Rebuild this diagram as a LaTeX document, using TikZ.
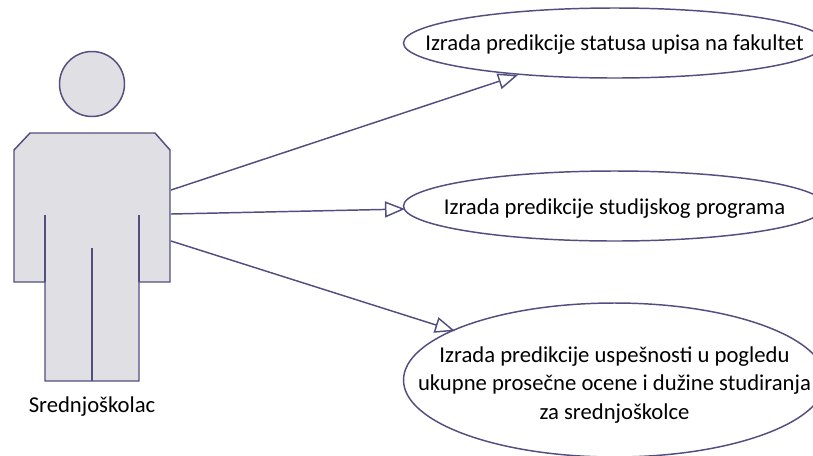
\documentclass[tikz,border=0pt]{standalone}
\usepackage{fontspec}
\setmainfont{Carlito}
\usetikzlibrary{arrows.meta,shapes.geometric}
\definecolor{umlline}{HTML}{524E80}
\definecolor{umlfill}{HTML}{DFDFE4}
\tikzset{
    usecase/.style={draw=umlline,line width=1.1pt,ellipse,fill=white,inner sep=0pt,minimum width=316.5pt},
    usetext/.style={align=center,inner sep=0pt,font=\fontsize{17}{21.4}\selectfont},
    actorpart/.style={draw=umlline,line width=1.1pt,fill=umlfill},
    actorline/.style={draw=umlline,line width=1.1pt},
    assoc/.style={-{Triangle[open,length=15pt,width=12pt]},draw=umlline,line width=1.1pt}
}
\begin{document}
\begin{tikzpicture}[x=0.75pt,y=-0.75pt]
    \useasboundingbox(0,0)rectangle(813,455);
    \clip(0,0)rectangle(813,455);
    %actor
    \node[actorpart,circle,minimum size=48.75pt,inner sep=0pt](head)at(92,84){};
    \draw[actorpart](45,381)--(45,282)--(14,282)--(14,150)--(30,133)--(155,133)--(170,150)--(170,282)--(139,282)--(139,381)--cycle;
    \draw[actorline](45,215)--(45,282);
    \draw[actorline](139,215)--(139,282);
    \draw[actorline](92,248)--(92,381);
    \node[usetext](actorlabel)at(92,407){Srednjoškolac};
    %use cases
    \node[usecase,minimum height=52.5pt](statusupisa)at(614.5,43){};
    \node[usetext](statusupisatext)at(614.5,45){Izrada predikcije statusa upisa na fakultet};
    \node[usecase,minimum height=52.5pt](program)at(614.5,206){};
    \node[usetext](programtext)at(614.5,208.5){Izrada predikcije studijskog programa};
    \node[usecase,minimum height=115.5pt](uspesnost)at(614.5,380){};
    \node[usetext](uspesnosttext)at(614.5,385){Izrada predikcije uspešnosti u pogledu\\ukupne prosečne ocene i dužine studiranja\\za srednjoškolce};
    %associations
    \coordinate(from1)at(171,190);
    \coordinate(from2)at(171,214);
    \coordinate(from3)at(171,241);
    \coordinate(to1)at(518,75);
    \coordinate(to2)at(405,209);
    \coordinate(to3)at(455,331);
    \draw[assoc](from1)--(to1);
    \draw[assoc](from2)--(to2);
    \draw[assoc](from3)--(to3);
\end{tikzpicture}
\end{document}
